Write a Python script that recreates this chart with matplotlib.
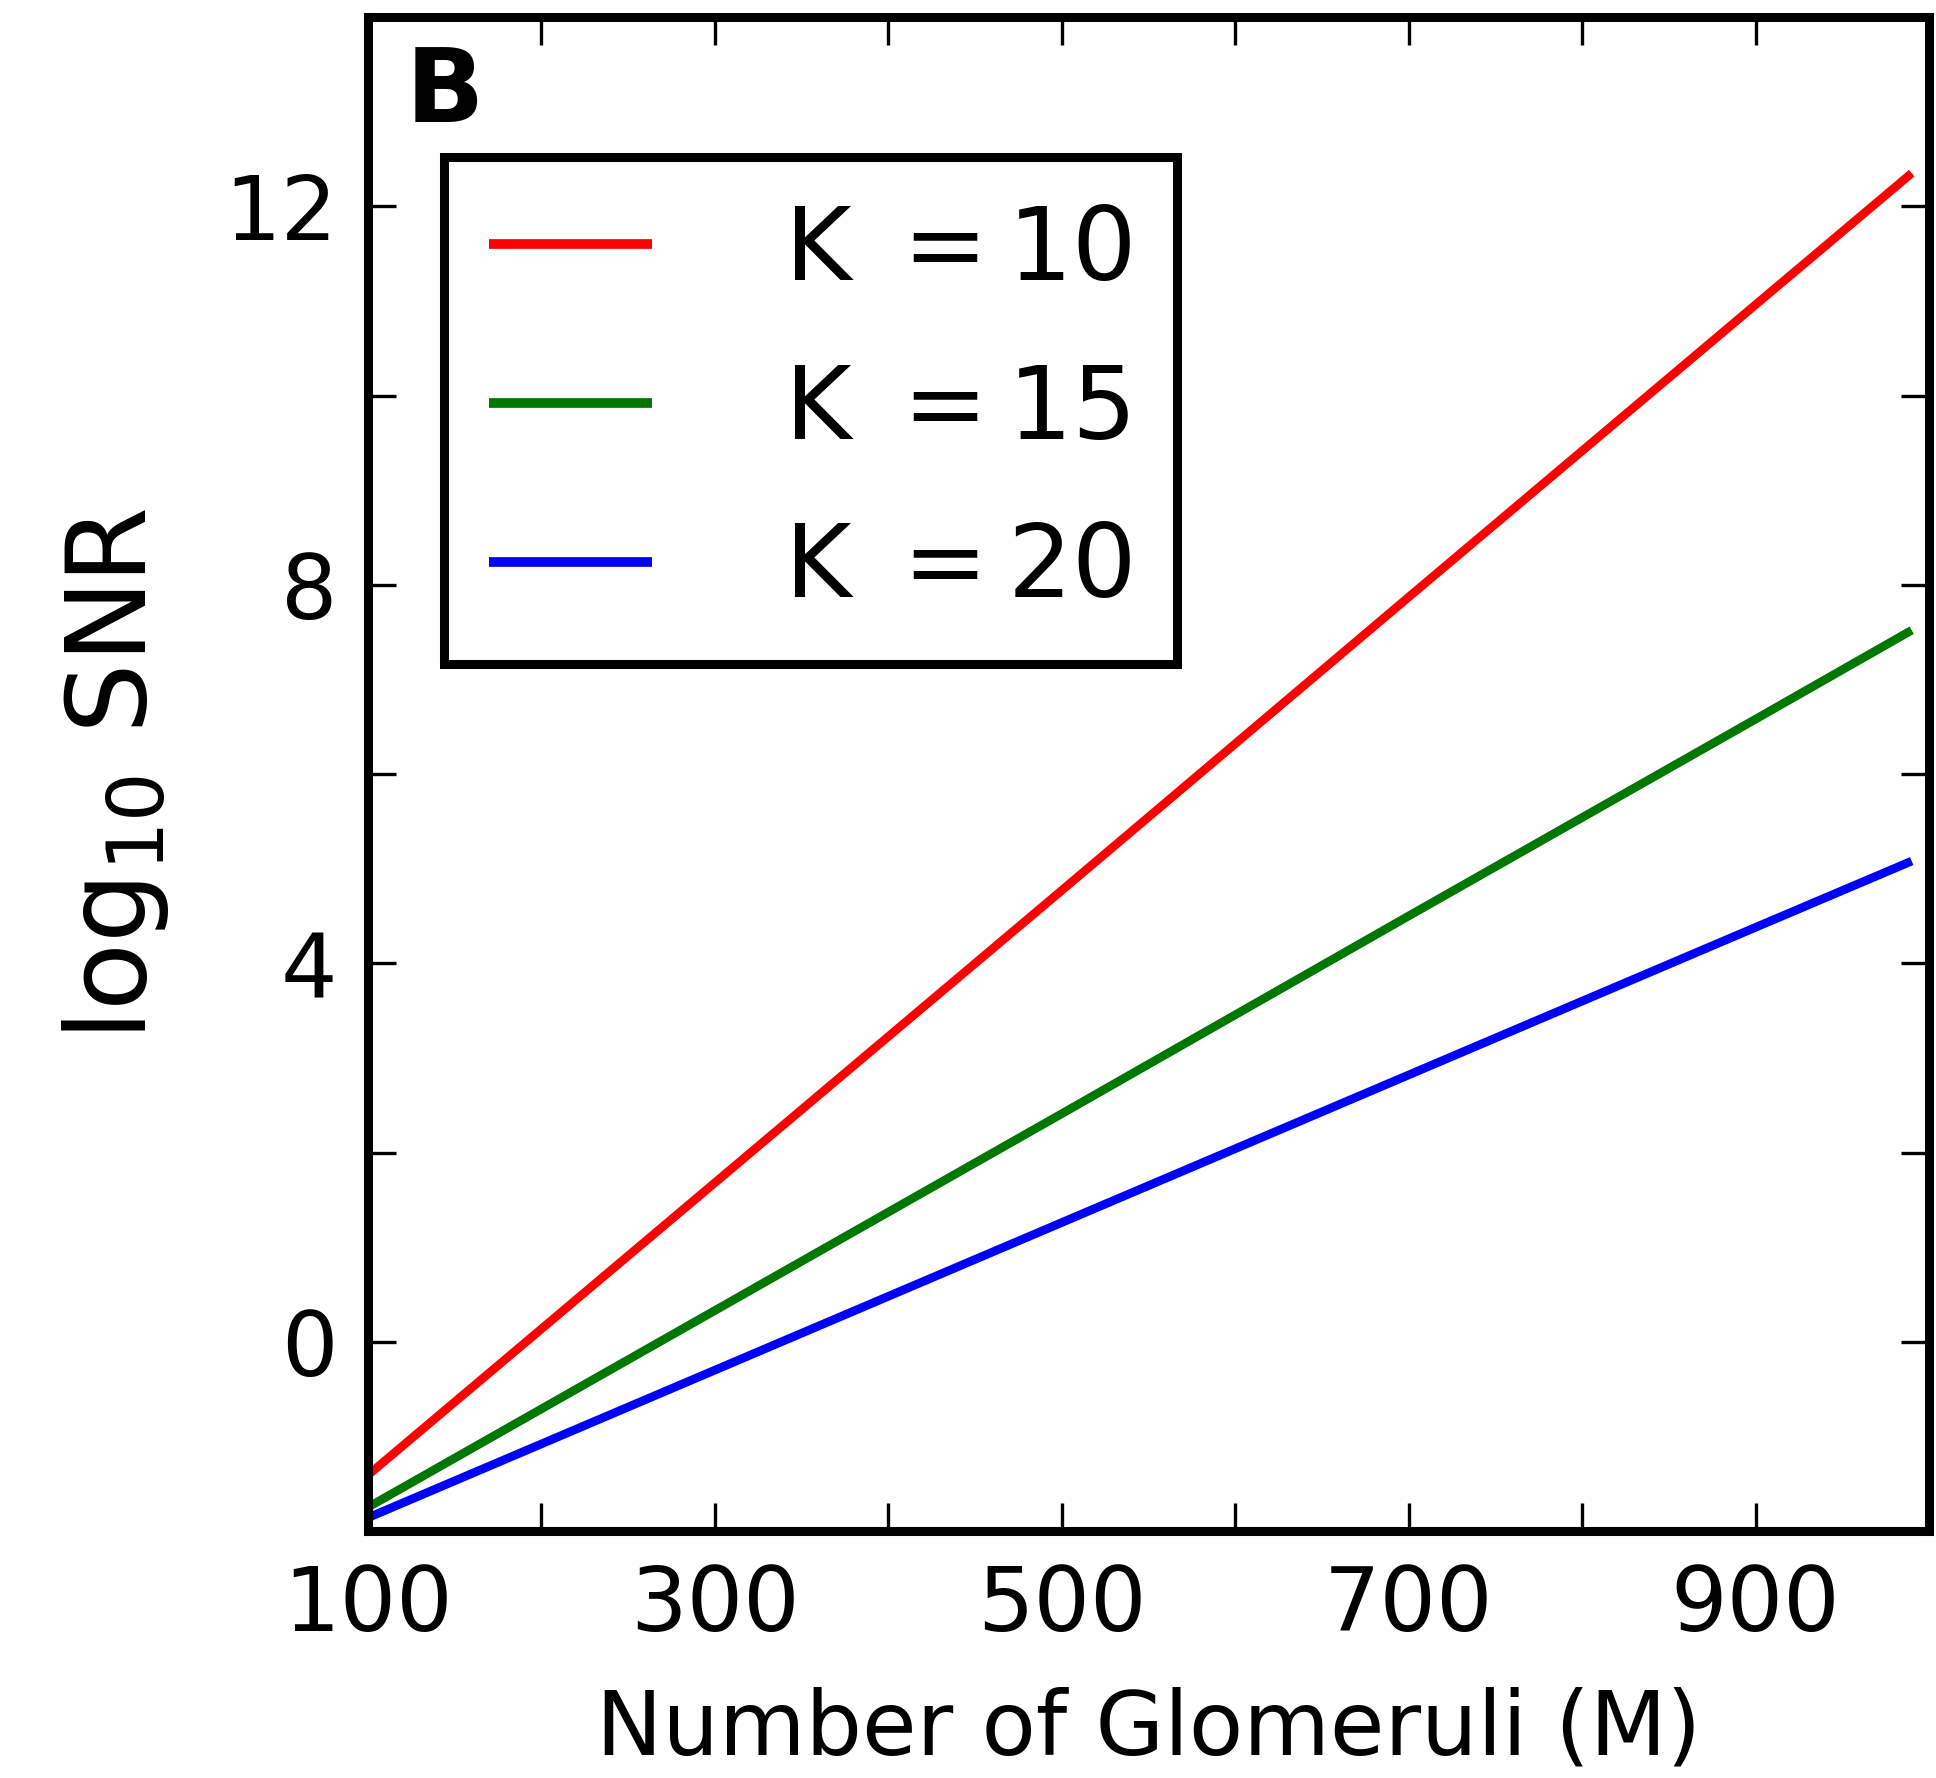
import numpy as np
import matplotlib
matplotlib.use("Agg")
import matplotlib.pyplot as plt
from matplotlib.font_manager import FontProperties

# Data
M = [100, 300, 500, 700, 900, 990]
snr_k10 = [-1.41, 1.68, 4.77, 7.87, 10.96, 12.35]
snr_k15 = [-1.75, 0.33, 2.41, 4.50, 6.58, 7.52]
snr_k20 = [-1.86, -0.30, 1.26, 2.82, 4.38, 5.08]
labels = [r'K $=$10', r'K $=$15', r'K $=$20']
colors = ['#ff0000', '#007700', '#0000ff']
xticks = [100, 200, 300, 400, 500, 600, 700, 800, 900, 1000]
xticklabels = ['100', '', '300', '', '500', '', '700', '', '900', '']
yticks = [-2, 0, 2, 4, 6, 8, 10, 12, 14]
yticklabels = ['', '0', '', '4', '', '8', '', '12', '']

plt.rcParams['font.family'] = ['DejaVu Sans']
fig = plt.figure(figsize=(19.36, 17.78), dpi=100)
ax = fig.add_axes([0.190, 0.1389, 0.8064, 0.8515])

for y, lab, c in zip([snr_k10, snr_k15, snr_k20], labels, colors):
    ax.plot(M, y, color=c, lw=6.2, label=lab, solid_capstyle='butt')

ax.set_xlim(100, 1000)
ax.set_ylim(-2, 14)
ax.set_xticks(xticks)
ax.set_xticklabels(xticklabels)
ax.set_yticks(yticks)
ax.set_yticklabels(yticklabels)
ax.tick_params(direction='in', length=20, width=2.4, top=True, right=True,
               labelsize=64)
ax.tick_params(axis='x', pad=23)
ax.tick_params(axis='y', pad=22)
for s in ax.spines.values():
    s.set_linewidth(6.5)

ax.set_xlabel('Number of Glomeruli (M)', fontsize=64, labelpad=26)
ax.set_ylabel(r'log$_{10}$ SNR', fontsize=80, labelpad=38)

ax.text(0.024, 0.983, 'B', transform=ax.transAxes, fontsize=74,
        fontweight='bold', va='top', ha='left')

legprop = FontProperties(family='DejaVu Sans', size=73)
leg = ax.legend(loc='upper left', bbox_to_anchor=(0.0487, 0.9075),
                borderaxespad=0, prop=legprop, handlelength=1.6,
                handletextpad=1.3, labelspacing=0.6, borderpad=0.45,
                fancybox=False, framealpha=1)
leg.get_frame().set_edgecolor('black')
leg.get_frame().set_linewidth(6.5)
for h in leg.get_lines():
    h.set_linewidth(7)

fig.savefig('out.png', dpi=100)
